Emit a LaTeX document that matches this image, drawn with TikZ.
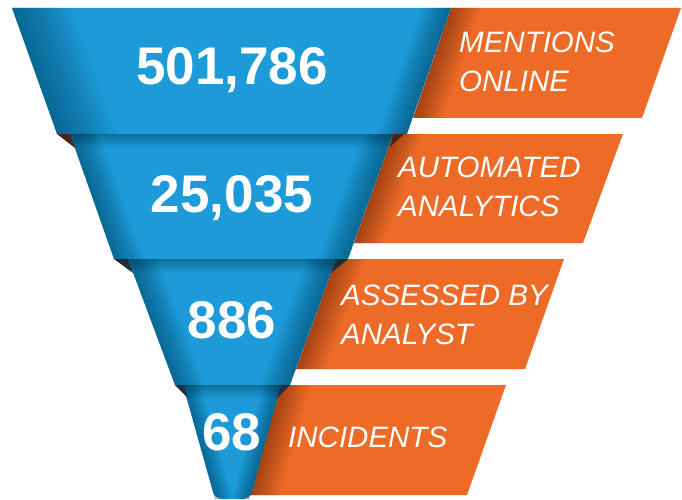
\documentclass[tikz,border=0pt]{standalone}
\usepackage{fontspec}
\setmainfont{Liberation Sans}
\definecolor{fblue}{HTML}{1C9BD8}
\definecolor{forange}{HTML}{EE6A27}
\definecolor{foldbrown}{HTML}{4A2418}
\definecolor{foldnavy}{HTML}{222C3A}
\newcommand\edgeshade[5]{%
  \foreach \w in {1.5,3,...,30}{\fill[black,opacity=0.014] (#1,#2) -- ++(#5*\w,0) -- (#3+#5*\w,#4) -- (#3,#4) -- cycle;}}
\newcommand\topshade[1]{%
  \foreach \h in {1,2,...,14}{\fill[black,opacity=0.018] (0,#1) rectangle (682,#1+\h);}}
\begin{document}
\begin{tikzpicture}[x=1pt,y=-1pt,
  num/.style={text=white,font=\bfseries\fontsize{53}{53}\selectfont,inner sep=0,anchor=base},
  lab/.style={text=white,font=\itshape\fontsize{29.5}{39}\selectfont,inner sep=0,anchor=north west,align=left},
  obox/.style={fill=forange},
  btier/.style={fill=fblue}]
\useasboundingbox (0,0) rectangle (682,500);
% orange boxes
\path[obox] (451,8) -- (681,8) -- (642,118) -- (413,118) -- cycle;
\path[obox] (393,134) -- (623,134) -- (583,243) -- (354,243) -- cycle;
\path[obox] (336,259) -- (564,259) -- (525,369) -- (296,369) -- cycle;
\path[obox] (281,385) -- (506,385) -- (467,495) -- (250,495) -- cycle;
\begin{scope}\clip (451,8) -- (681,8) -- (642,118) -- (413,118) -- cycle; \edgeshade{451}{8}{413}{118}{1}\end{scope}
\begin{scope}\clip (393,134) -- (623,134) -- (583,243) -- (354,243) -- cycle; \edgeshade{393}{134}{354}{243}{1}\end{scope}
\begin{scope}\clip (336,259) -- (564,259) -- (525,369) -- (296,369) -- cycle; \edgeshade{336}{259}{296}{369}{1}\end{scope}
\begin{scope}\clip (281,385) -- (506,385) -- (467,495) -- (250,495) -- cycle; \edgeshade{281}{385}{250}{495}{1}\end{scope}
% blue tiers
\path[btier] (12,8) -- (451,8) -- (407,134) -- (57,134) -- cycle;
\path[btier] (70,134) -- (393,134) -- (348,259) -- (114,259) -- cycle;
\path[btier] (128,259) -- (336,259) -- (290,385) -- (175,385) -- cycle;
\path[btier] (183,385) -- (281,385) [rounded corners=7pt] -- (250,499) -- (215,499) [sharp corners] -- cycle;
\begin{scope}\clip (12,8) -- (451,8) -- (407,134) -- (57,134) -- cycle;
  \edgeshade{12}{8}{57}{134}{2}\edgeshade{451}{8}{407}{134}{-1}\end{scope}
\begin{scope}\clip (70,134) -- (393,134) -- (348,259) -- (114,259) -- cycle;
  \edgeshade{70}{134}{114}{259}{1}\edgeshade{393}{134}{348}{259}{-1}\topshade{134}\end{scope}
\begin{scope}\clip (128,259) -- (336,259) -- (290,385) -- (175,385) -- cycle;
  \edgeshade{128}{259}{175}{385}{1}\edgeshade{336}{259}{290}{385}{-1}\topshade{259}\end{scope}
\begin{scope}\clip (183,385) -- (281,385) -- (250,499) -- (215,499) -- cycle;
  \edgeshade{183}{385}{215}{499}{0.6}\edgeshade{281}{385}{250}{499}{-0.6}\topshade{385}\end{scope}
% folds
\fill[foldbrown] (57,134) -- (70,134) -- (75,148) -- cycle;
\fill[foldbrown] (393,134) -- (404,134) -- (390,147) -- cycle;
\fill[foldnavy] (114,259) -- (128,259) -- (133,273) -- cycle;
\fill[foldnavy] (336,259) -- (348,259) -- (331,273) -- cycle;
\fill[foldnavy] (175,385) -- (183,385) -- (188,398) -- cycle;
\fill[foldnavy] (281,385) -- (290,385) -- (277,398) -- cycle;
% numbers
\node[num] (n1) at (232,85) {501,786};
\node[num] (n2) at (232,212) {25,035};
\node[num] (n3) at (232,338) {886};
\node[num] (n4) at (232,450) {68};
% labels
\node[lab] (l1) at (459,32) {MENTIONS\\ONLINE};
\node[lab] (l2) at (398,157) {AUTOMATED\\ANALYTICS};
\node[lab] (l3) at (341,285) {ASSESSED BY\\ANALYST};
\node[lab] (l4) at (288,427) {INCIDENTS};
\end{tikzpicture}
\end{document}
